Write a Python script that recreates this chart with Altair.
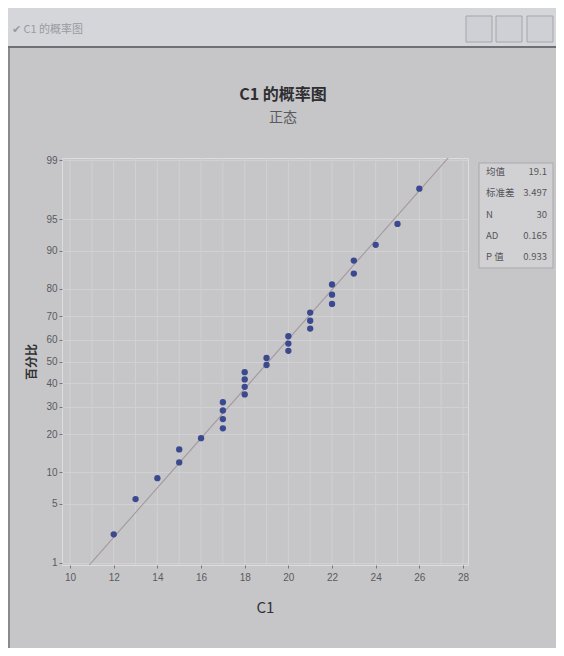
import altair as alt
import pandas as pd
from statistics import NormalDist

# ---------------- data ----------------
c1_values = [12, 13, 14, 15, 15, 16, 17, 17, 17, 17, 18, 18, 18, 18, 19, 19,
             20, 20, 20, 21, 21, 21, 22, 22, 22, 23, 23, 24, 25, 26]
percent_values = [2.3, 5.6, 8.9, 12.2, 15.5, 18.8, 22.0, 25.3, 28.6, 31.9,
                  35.2, 38.5, 41.8, 45.1, 48.4, 51.6, 54.9, 58.2, 61.5, 64.8,
                  68.1, 71.4, 74.7, 78.0, 81.3, 84.5, 87.8, 91.1, 94.4, 97.7]
y_tick_labels = [1, 5, 10, 20, 30, 40, 50, 60, 70, 80, 90, 95, 99]
x_tick_labels = [10, 12, 14, 16, 18, 20, 22, 24, 26, 28]
x_grid_values = [10, 11, 12, 13, 14, 15, 16, 17, 18, 19, 20, 21, 22, 23, 24, 25, 26, 27, 28]
stat_names = ["均值", "标准差", "N", "AD", "P 值"]
stat_values = ["19.1", "3.497", "30", "0.165", "0.933"]
fit_mean = 19.1
fit_sd = 3.497
chart_title = "C1 的概率图"
chart_subtitle = "正态"
window_title = "✔ C1 的概率图"
x_title = "C1"
y_title = "百分比"

FONT = "Noto Sans CJK SC"
nd = NormalDist()

pts = pd.DataFrame({"C1": c1_values, "pct": percent_values})
pts["z"] = [nd.inv_cdf(p / 100.0) for p in percent_values]

X_DOMAIN = [9.63, 28.23]
Y_DOMAIN = [-2.35, 2.35]
y_tick_z = [nd.inv_cdf(p / 100.0) for p in y_tick_labels]
label_expr = " : ".join(
    f"abs(datum.value - ({z:.6f})) < 0.0005 ? '{p}'" for p, z in zip(y_tick_labels, y_tick_z)
) + " : ''"

x_scale = alt.Scale(domain=X_DOMAIN, nice=False, zero=False)
y_scale = alt.Scale(domain=Y_DOMAIN, nice=False, zero=False)

x_axis = alt.Axis(values=x_tick_labels, title=x_title, grid=False, tickSize=3,
                  tickColor="#77777b", labelPadding=4, labelFontSize=10,
                  labelColor="#5a5a5e", titleFontSize=15, titleFontWeight="normal",
                  titleColor="#333336", titlePadding=18, domain=False,
                  labelFont="Liberation Sans", titleFont=FONT)
y_axis = alt.Axis(values=y_tick_z, labelExpr=label_expr, title=y_title, grid=True,
                  gridColor="#d1d1d4", gridWidth=1, tickSize=3, tickColor="#77777b",
                  labelPadding=2, labelFontSize=10, labelColor="#5a5a5e",
                  titleFontSize=12, titleFontWeight="bold", titleColor="#333336",
                  titlePadding=7, domain=False, labelFont="Liberation Sans",
                  titleFont=FONT)


def xenc(field):
    return alt.X(f"{field}:Q", scale=x_scale, axis=x_axis, title=x_title)


def yenc(field):
    return alt.Y(f"{field}:Q", scale=y_scale, axis=y_axis, title=y_title)


# vertical grid lines every unit
grid_layer = alt.Chart(pd.DataFrame({"g": x_grid_values})).mark_rule(
    color="#d1d1d4", strokeWidth=1
).encode(x=xenc("g"))

# fitted normal line from mean and standard deviation
line_layer = alt.Chart(pd.DataFrame({"xv": X_DOMAIN})).transform_calculate(
    zv=f"(datum.xv - {fit_mean}) / {fit_sd}"
).mark_line(color="#a4989c", strokeWidth=1.1, clip=True).encode(
    x=xenc("xv"), y=yenc("zv")
)

point_layer = alt.Chart(pts).mark_circle(size=40, color="#3b4a8e", opacity=1).encode(
    x=xenc("C1"), y=yenc("z"), tooltip=["C1", "pct"]
)

one = pd.DataFrame({"k": [0]})


def deco_rect(x, x2, y, y2, fill, stroke=None, sw=1):
    kw = dict(fill=fill)
    if stroke:
        kw.update(stroke=stroke, strokeWidth=sw)
    return alt.Chart(one).mark_rect(**kw).encode(
        x=alt.value(x), x2=alt.value(x2), y=alt.value(y), y2=alt.value(y2)
    )


def deco_text(txt, x, y, size, color, weight="normal", align="center"):
    return alt.Chart(pd.DataFrame({"t": [txt]})).mark_text(
        fontSize=size, color=color, fontWeight=weight, align=align,
        baseline="middle", font=FONT
    ).encode(text="t:N", x=alt.value(x), y=alt.value(y))


# window chrome (plot area origin is at page x=62, y=158)
chrome = [
    deco_rect(-54, 494, -150, -112, "#d5d6da"),
    deco_rect(-54, 494, -112, -110, "#6f7074"),
    deco_rect(-54, -52, -110, 490, "#8a8a8e"),
    deco_text(window_title, -50, -128, 11, "#9a9aa2", align="left"),
    deco_rect(404, 430, -142, -116, "#cfd0d5", "#a4a5ab"),
    deco_rect(434, 460, -142, -116, "#cfd0d5", "#a4a5ab"),
    deco_rect(465, 491, -142, -116, "#cfd0d5", "#a4a5ab"),
    deco_text(chart_title, 221, -63, 16, "#2e2e31", weight="bold"),
    deco_text(chart_subtitle, 221, -40, 14, "#5a5a5e"),
]

# statistics box
stats = [deco_rect(417, 491, 5, 110, "#d1d1d4", "#a9a9ad")]
for i, (nm, vl) in enumerate(zip(stat_names, stat_values)):
    yy = 14 + i * 21.3
    stats.append(deco_text(nm, 424, yy, 9.5, "#55555a", align="left"))
    stats.append(deco_text(vl, 485, yy, 9.5, "#55555a", align="right"))

chart = alt.layer(
    *chrome, grid_layer, line_layer, point_layer, *stats
).properties(
    width=406,
    height=407,
    padding={"left": 54, "top": 150, "right": 88, "bottom": 83},
    autosize=alt.AutoSizeParams(type="none"),
    background="#c6c6c9",
).configure_view(
    fill="#cbcbce", stroke="#8e8e92", strokeWidth=1
).configure(font=FONT)

chart.save("out.html", embed_options={"renderer": "svg", "actions": False})
